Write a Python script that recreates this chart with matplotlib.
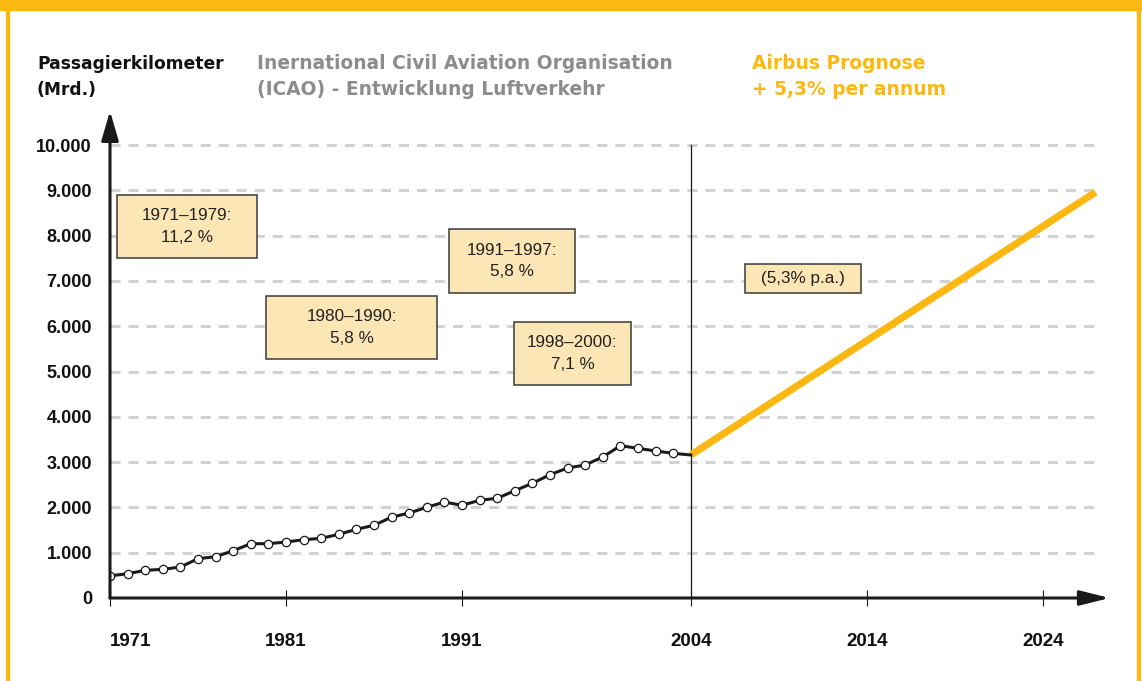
import matplotlib.pyplot as plt
from matplotlib.patches import Rectangle

W, H = 1142, 681

# ICAO history, Mrd. passenger km
years = list(range(1971, 2005))
pkm = [490, 536, 611, 633, 684, 868, 912, 1044, 1199, 1199,
       1236, 1287, 1317, 1406, 1516, 1605, 1785, 1876, 2002, 2119,
       2046, 2157, 2201, 2369, 2532, 2722, 2870, 2936, 3113, 3362,
       3305, 3245, 3194, 3157]

# Airbus forecast (+5,3% p.a.)
forecast_years = [2004, 2027]
forecast_pkm = [3157, 8960]

xtick_years = [1971, 1981, 1991, 2004, 2014, 2024]
ytick_vals = list(range(0, 10001, 1000))
ytick_labels = ["{:,}".format(v).replace(",", ".") for v in ytick_vals]

# growth rate notes: text, x0, x1, y0, y1
notes = [
    ("1971\u20131979:\n11,2 %", 1971.4, 1979.35, 7506, 8896),
    ("1980\u20131990:\n5,8 %", 1979.86, 1989.6, 5276, 6667),
    ("1991\u20131997:\n5,8 %", 1990.26, 1997.42, 6733, 8146),
    ("1998\u20132000:\n7,1 %", 1993.95, 2000.6, 4702, 6093),
    ("(5,3% p.a.)", 2007.1, 2013.67, 6733, 7373),
]

yellow = "#FBB813"
grey = "#8C8C8C"
ink = "#1A1A1A"

fig = plt.figure(figsize=(W / 100, H / 100), dpi=100)

## yellow frame
fig.patches.append(Rectangle((0, (H - 10) / H), 1, 10 / H, transform=fig.transFigure,
                             color=yellow, zorder=0))
fig.patches.append(Rectangle((6 / W, 0), 3 / W, 1, transform=fig.transFigure,
                             color=yellow, zorder=0))
fig.patches.append(Rectangle((1137 / W, 0), 3 / W, 1, transform=fig.transFigure,
                             color=yellow, zorder=0))

## axes: 17.6 px per year, 45.3 px per 1000
ax = fig.add_axes([110 / W, (H - 598) / H, 1005 / W, 488 / H])
ax.set_xlim(1971, 1971 + 1005 / 17.6)
ax.set_ylim(0, 488 / 0.0453)
for s in ax.spines.values():
    s.set_visible(False)

## grid
for v in ytick_vals[1:]:
    ax.plot([1971, 2027.25], [v, v], color="#D2D2D2", lw=2.2,
            linestyle=(0, (3.3, 2.6)), zorder=1, solid_capstyle="butt")
ax.plot([2004, 2004], [0, 10000], color=ink, lw=0.9, zorder=2)

## axis arrows
ax.annotate("", xy=(1971, 10750), xytext=(1971, 0),
            arrowprops=dict(arrowstyle="-|>,head_length=1.2,head_width=0.35",
                            mutation_scale=15, lw=2.2, color=ink,
                            shrinkA=0, shrinkB=0), zorder=5)
ax.annotate("", xy=(2027.8, 0), xytext=(1971, 0),
            arrowprops=dict(arrowstyle="-|>,head_length=1.2,head_width=0.3",
                            mutation_scale=15, lw=2.2, color=ink,
                            shrinkA=0, shrinkB=0), zorder=5)

## series
ax.plot(forecast_years, forecast_pkm, color=yellow, lw=5.2,
        solid_capstyle="butt", zorder=3)
ax.plot(years, pkm, color=ink, lw=2.2, marker="o", ms=6, mfc="white",
        mec=ink, mew=0.9, markevery=slice(0, len(years) - 1), zorder=4)

## notes
for txt, x0, x1, y0, y1 in notes:
    ax.add_patch(Rectangle((x0, y0), x1 - x0, y1 - y0, facecolor="#FDE6B6",
                           edgecolor="#3A3A3A", lw=1.1, zorder=6))
    ax.text((x0 + x1) / 2, (y0 + y1) / 2, txt, ha="center", va="center",
            family="Liberation Sans", fontsize=12.3, linespacing=1.55,
            color="#222222", zorder=7)

## ticks
ax.set_xticks(xtick_years)
ax.set_xticklabels([str(y) for y in xtick_years], family="Liberation Sans",
                   fontweight="bold", fontsize=13.5, color="#111111")
ax.tick_params(axis="x", direction="inout", length=11, width=0.8, pad=20,
               color=ink)
ax.get_xticklabels()[0].set_ha("left")
ax.set_yticks(ytick_vals)
ax.set_yticklabels(ytick_labels, family="Liberation Sans", fontweight="bold",
                   fontsize=13, color="#111111")
ax.tick_params(axis="y", length=0, pad=13)

## header
hdr = dict(family="DejaVu Sans", fontweight="bold", va="baseline")
fig.text(37 / W, 1 - 69 / H, "Passagierkilometer", color="#111111",
         fontsize=12.3, **hdr)
fig.text(37 / W, 1 - 95 / H, "(Mrd.)", color="#111111", fontsize=12.3, **hdr)
fig.text(257 / W, 1 - 69 / H, "Inernational Civil Aviation Organisation",
         color=grey, fontsize=13.4, **hdr)
fig.text(257 / W, 1 - 95 / H, "(ICAO) - Entwicklung Luftverkehr",
         color=grey, fontsize=13.4, **hdr)
fig.text(752 / W, 1 - 69 / H, "Airbus Prognose", color=yellow,
         fontsize=13.4, **hdr)
fig.text(752 / W, 1 - 95 / H, "+ 5,3% per annum", color=yellow,
         fontsize=13.4, **hdr)

fig.savefig("out.png", dpi=100)
